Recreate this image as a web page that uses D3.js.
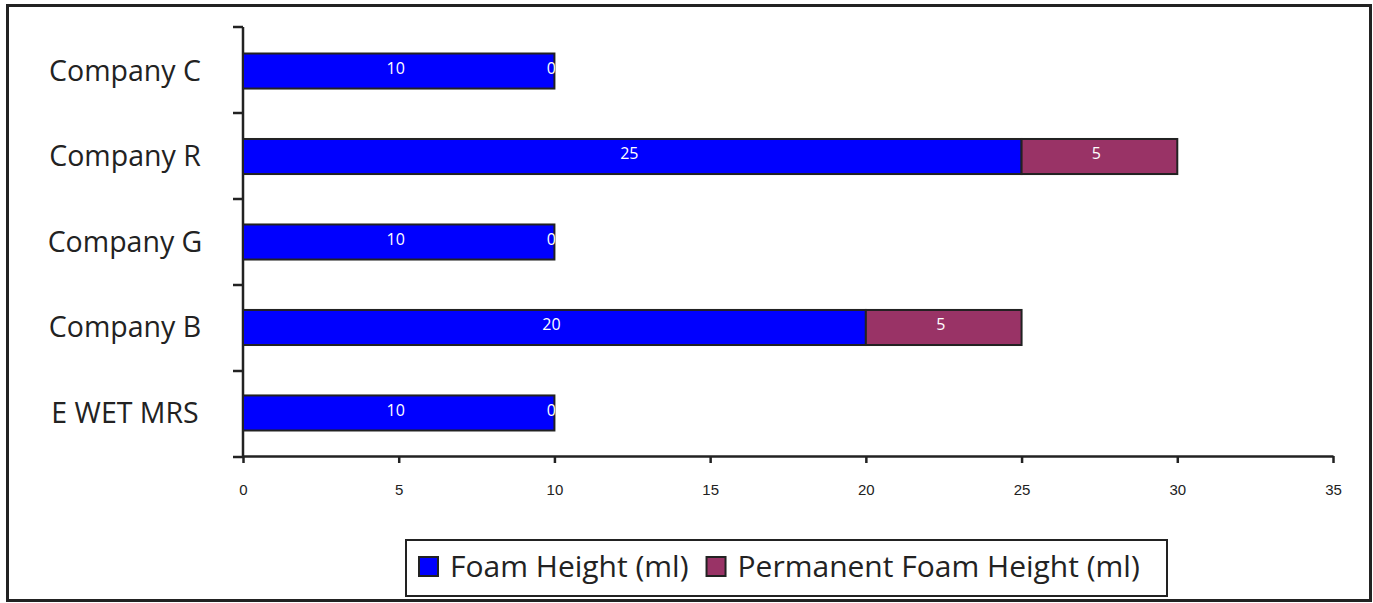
<!DOCTYPE html>
<html>
<head>
<meta charset="utf-8">
<script src="https://cdn.jsdelivr.net/npm/d3@7"></script>
<style>
  html, body { margin: 0; padding: 0; background: #fff; }
  svg { display: block; font-family: "Open Sans", "Noto Sans", sans-serif; }
</style>
</head>
<body>
<svg id="chart" width="1373" height="603"></svg>
<script>
// Categories, top to bottom
const categories = ["Company C", "Company R", "Company G", "Company B", "E WET MRS"];
// Series values (ml)
const foamHeight = [10, 25, 10, 20, 10];
const permanentFoamHeight = [0, 5, 0, 5, 0];
const seriesNames = ["Foam Height (ml)", "Permanent Foam Height (ml)"];
const seriesColors = ["#0000ff", "#993366"];
const xTicks = [0, 5, 10, 15, 20, 25, 30, 35];

const svg = d3.select("#chart");

// Outer frame
svg.append("rect").attr("x", 7.5).attr("y", 5.5).attr("width", 1363).attr("height", 595)
  .attr("fill", "#fff").attr("stroke", "#222").attr("stroke-width", 3);

const plot = { left: 243, right: 1333, top: 27, bottom: 457 };

const x = d3.scaleLinear().domain([0, 35]).range([plot.left, plot.right]);
const y = d3.scaleBand().domain(categories).range([plot.top, plot.bottom]).paddingInner(0.59).paddingOuter(0.31);

const rows = categories.map((c, i) => ({ cat: c, values: [foamHeight[i], permanentFoamHeight[i]] }));
const stacked = d3.stack().keys([0, 1]).value((d, k) => d.values[k])(rows);

// X axis
const xAxis = svg.append("g").attr("transform", `translate(0,${plot.bottom - 1})`)
  .call(d3.axisBottom(x).tickValues(xTicks).tickSize(7).tickPadding(21).tickSizeOuter(0));
xAxis.select(".domain").attr("stroke", "#222").attr("stroke-width", 2.5);
xAxis.selectAll(".tick line").attr("stroke", "#222").attr("stroke-width", 2.5);
xAxis.selectAll(".tick text").attr("fill", "#222").attr("font-size", 15);

// Y axis with band-boundary ticks
const yAxisG = svg.append("g");
yAxisG.append("line").attr("x1", plot.left).attr("x2", plot.left)
  .attr("y1", plot.top).attr("y2", plot.bottom)
  .attr("stroke", "#222").attr("stroke-width", 2.5);
const boundaries = d3.range(categories.length + 1).map(i => plot.top + i * (plot.bottom - plot.top) / categories.length);
yAxisG.selectAll("line.bt").data(boundaries).join("line").attr("class", "bt")
  .attr("x1", plot.left - 10).attr("x2", plot.left)
  .attr("y1", d => d).attr("y2", d => d)
  .attr("stroke", "#222").attr("stroke-width", 2.5);

// Category labels
svg.append("g").selectAll("text").data(categories).join("text")
  .attr("x", 125).attr("y", d => y(d) + y.bandwidth() / 2)
  .attr("dy", "0.35em").attr("text-anchor", "middle")
  .attr("font-size", 28.5).attr("fill", "#222").text(d => d);

// Clip labels to each row's stacked extent
const defs = svg.append("defs");
rows.forEach((r, i) => {
  const total = r.values[0] + r.values[1];
  defs.append("clipPath").attr("id", "rowclip" + i).append("rect")
    .attr("x", plot.left).attr("y", y(r.cat) - 5)
    .attr("width", x(total) - plot.left + 1).attr("height", y.bandwidth() + 10);
});

// Bars
stacked.forEach((layer, k) => {
  svg.append("g").selectAll("rect").data(layer).join("rect")
    .attr("x", d => x(d[0]))
    .attr("y", d => y(d.data.cat))
    .attr("width", d => x(d[1]) - x(d[0]))
    .attr("height", y.bandwidth())
    .attr("fill", seriesColors[k])
    .attr("stroke", "#222").attr("stroke-width", 2);
});

// Value labels
stacked.forEach((layer, k) => {
  svg.append("g").selectAll("text").data(layer).join("text")
    .attr("clip-path", (d, i) => `url(#rowclip${i})`)
    .attr("x", d => (x(d[0]) + x(d[1])) / 2 - 3)
    .attr("y", d => y(d.data.cat) + y.bandwidth() / 2 - 3)
    .attr("dy", "0.35em").attr("text-anchor", "middle")
    .attr("font-size", 16).attr("fill", "#fff")
    .text(d => d.data.values[k]);
});

// Legend
const lg = svg.append("g");
lg.append("rect").attr("x", 406).attr("y", 540).attr("width", 761).attr("height", 56)
  .attr("fill", "#fff").attr("stroke", "#222").attr("stroke-width", 2);
let cx = 419;
seriesNames.forEach((name, k) => {
  lg.append("rect").attr("x", cx).attr("y", 557).attr("width", 19).attr("height", 19)
    .attr("fill", seriesColors[k]).attr("stroke", "#222").attr("stroke-width", 2);
  const t = lg.append("text").attr("x", cx + 31).attr("y", 566).attr("dy", "0.35em")
    .attr("font-size", 30).attr("fill", "#222").text(name);
  cx = cx + 31 + t.node().getComputedTextLength() + 18;
});
</script>
</body>
</html>
